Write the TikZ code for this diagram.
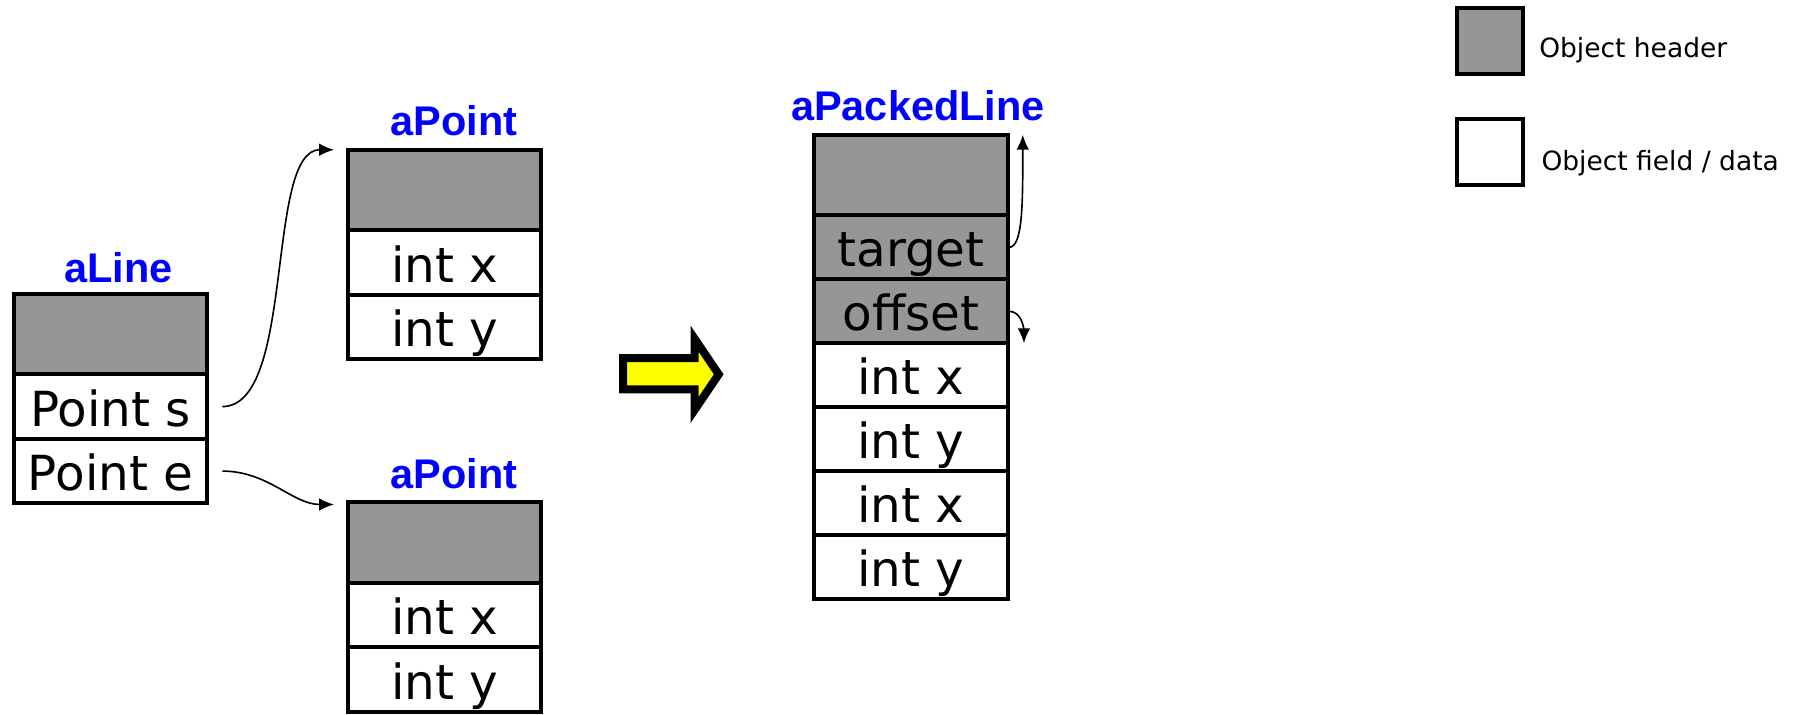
\documentclass[tikz,border=0pt]{standalone}
\usepackage{fontspec}
\setmainfont{DejaVu Sans}
\newfontfamily\lblfont{Liberation Sans}
\usetikzlibrary{arrows.meta,positioning,calc}
\definecolor{hdrgray}{RGB}{150,150,150}
\definecolor{lblblue}{RGB}{0,0,255}
\definecolor{arrowyellow}{RGB}{255,255,0}
\begin{document}
\begin{tikzpicture}[x=0.5pt,y=-0.5pt,
  cell/.style={draw=black,line width=1.8pt,rectangle,inner sep=0pt,outer sep=0pt,
    minimum width=84pt,text height=17pt,text depth=0pt,font=\fontsize{21}{21}\selectfont},
  hdr/.style={cell,fill=hdrgray,minimum height=35pt},
  fld/.style={cell,fill=white,minimum height=28pt},
  pfld/.style={cell,fill=white,minimum height=27.75pt},
  pgfld/.style={cell,fill=hdrgray,minimum height=27.75pt},
  objlabel/.style={font=\lblfont\bfseries\fontsize{18}{18}\selectfont,text=lblblue,inner sep=0pt,anchor=base},
  legbox/.style={draw=black,line width=1.8pt,rectangle,inner sep=0pt,outer sep=0pt,minimum size=28.5pt},
  legtext/.style={font=\fontsize{11.5}{11.5}\selectfont,inner sep=0pt,anchor=base west},
  link/.style={line width=0.7pt,-{Latex[length=6.5pt,width=5.5pt]}},
  bigarrow/.style={draw=black,line width=3.5pt,fill=arrowyellow,line join=miter}]
\useasboundingbox (0,0) rectangle (1568,620);

% aLine
\node[objlabel] (lblaline) at (103,245) {aLine};
\node[hdr,anchor=north west] (alh) at (12,255) {};
\node[fld,below=0pt of alh] (ps) {Point s};
\node[fld,below=0pt of ps] (pe) {Point e};

% aPoint (top)
\node[objlabel] (lblap1) at (394,118) {aPoint};
\node[hdr,anchor=north west] (ap1h) at (302,130) {};
\node[fld,below=0pt of ap1h] (ap1x) {int x};
\node[fld,below=0pt of ap1x] (ap1y) {int y};

% aPoint (bottom)
\node[objlabel] (lblap2) at (394,424) {aPoint};
\node[hdr,anchor=north west] (ap2h) at (302,436) {};
\node[fld,below=0pt of ap2h] (ap2x) {int x};
\node[fld,below=0pt of ap2x] (ap2y) {int y};

% connectors from aLine
\draw[link] ([xshift=6.5pt]ps.east) to[out=0,in=180,out distance=32pt,in distance=30pt] ([xshift=-6pt]ap1h.north west);
\draw[link] ([xshift=6.5pt]pe.east) to[out=0,in=180,out distance=20pt,in distance=18pt] ([xshift=-6pt,yshift=-1pt]ap2h.north west);

% big yellow arrow
\draw[bigarrow] (541,311) -- (603,311) -- (603,294) -- (624,325) -- (603,356) -- (603,338) -- (541,338) -- cycle;

% aPackedLine
\node[objlabel] (lblpk) at (797,105) {aPackedLine};
\node[hdr,anchor=north west] (pkh) at (707,117) {};
\node[pgfld,below=0pt of pkh] (pkt) {target};
\node[pgfld,below=0pt of pkt] (pko) {offset};
\node[pfld,below=0pt of pko] (pkx1) {int x};
\node[pfld,below=0pt of pkx1] (pky1) {int y};
\node[pfld,below=0pt of pky1] (pkx2) {int x};
\node[pfld,below=0pt of pkx2] (pky2) {int y};

\draw[link] ([xshift=0.5pt]pkt.east) to[out=0,in=-90,out distance=6pt,in distance=30pt] ([xshift=6.5pt]pkh.north east);
\draw[link] ([xshift=0.5pt]pko.east) to[out=0,in=90,out distance=6pt,in distance=5pt] ([xshift=7pt]pko.south east);

% legend
\node[legbox,fill=hdrgray] (leghdr) at (1293.5,35.5) {};
\node[legtext] (leghdrtext) at (1336,50) {Object header};
\node[legbox,fill=white] (legfld) at (1293.5,132) {};
\node[legtext] (legfldtext) at (1338,148) {Object field / data};
\end{tikzpicture}
\end{document}
